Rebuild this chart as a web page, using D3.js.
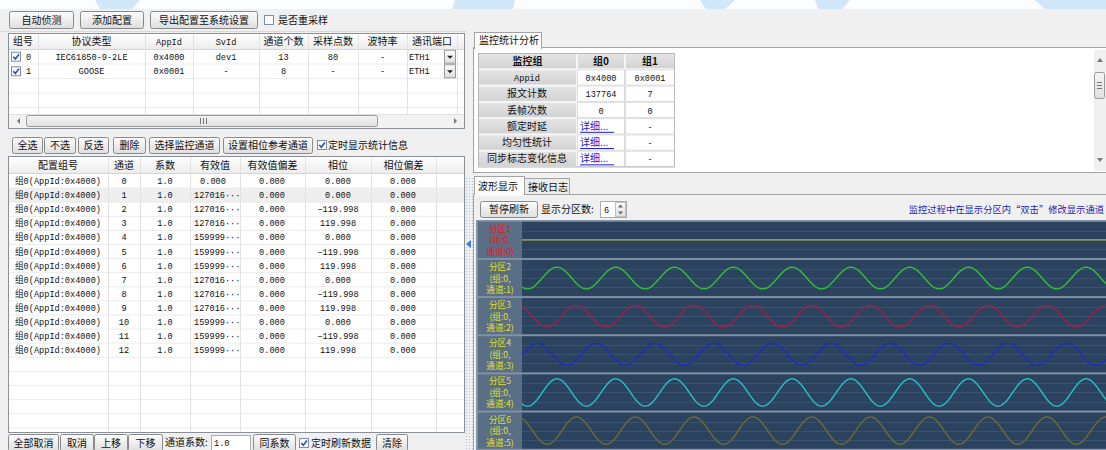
<!DOCTYPE html>
<html><head><meta charset="utf-8">
<script src="https://cdn.jsdelivr.net/npm/d3@7"></script>
<style>
html,body{margin:0;padding:0;background:#f0f0f0;overflow:hidden}
svg{display:block}
text{font-family:"Noto Sans CJK SC","Noto Sans",sans-serif;font-size:10px;fill:#111}
.mono{font-family:"Liberation Mono","DejaVu Sans Mono","Noto Sans CJK SC",monospace;font-size:8.6px}
</style></head><body>
<svg id="c" width="1106" height="450"></svg>
<script>
// ---------------- data ----------------
const toolbarButtons = ["自动侦测","添加配置","导出配置至系统设置"];
const resampleLabel = "是否重采样";

const configHeaders = ["组号","协议类型","AppId","SvId","通道个数","采样点数","波特率","通讯端口"];
const configGroups = ["0","1"];
const configProtocols = ["IEC61850-9-2LE","GOOSE"];
const configAppIds = ["0x4000","0x0001"];
const configSvIds = ["dev1","-"];
const configChannelCounts = ["13","8"];
const configSamplePoints = ["80","-"];
const configBaudRates = ["-","-"];
const configPorts = ["ETH1","ETH1"];

const midButtons = ["全选","不选","反选","删除","选择监控通道","设置相位参考通道"];
const midCheckLabel = "定时显示统计信息";

const channelHeaders = ["配置组号","通道","系数","有效值","有效值偏差","相位","相位偏差"];
const channelGroupLabel = "组0(AppId:0x4000)";
const channelIds = [0,1,2,3,4,5,6,7,8,9,10,11,12];
const channelCoefs = ["1.0","1.0","1.0","1.0","1.0","1.0","1.0","1.0","1.0","1.0","1.0","1.0","1.0"];
const channelRms = [0,127016,127016,127016,159999,159999,159999,127016,127016,127016,159999,159999,159999];
const channelRmsText = ["0.000","127016···","127016···","127016···","159999···","159999···","159999···","127016···","127016···","127016···","159999···","159999···","159999···"];
const channelRmsDev = ["0.000","0.000","0.000","0.000","0.000","0.000","0.000","0.000","0.000","0.000","0.000","0.000","0.000"];
const channelPhase = [0,0,-119.998,119.998,0,-119.998,119.998,0,-119.998,119.998,0,-119.998,119.998];
const channelPhaseDev = ["0.000","0.000","0.000","0.000","0.000","0.000","0.000","0.000","0.000","0.000","0.000","0.000","0.000"];

const bottomButtonsA = ["全部取消","取消","上移","下移"];
const coefLabel = "通道系数:";
const coefValue = "1.0";
const sameCoefButton = "同系数";
const refreshLabel = "定时刷新数据";
const clearButton = "清除";

const statTab = "监控统计分析";
const statHeaders = ["监控组","组0","组1"];
const statLabels = ["Appid","报文计数","丢帧次数","额定时延","均匀性统计","同步标志变化信息"];
const statGroup0 = ["0x4000","137764","0","详细...","详细...","详细..."];
const statGroup1 = ["0x0001","7","0","-","-","-"];

const waveTabs = ["波形显示","接收日志"];
const pauseButton = "暂停刷新";
const partitionLabel = "显示分区数:";
const partitionCount = "6";
const hintText = "监控过程中在显示分区内“双击”修改显示通道";

const wavePartitions = ["分区1","分区2","分区3","分区4","分区5","分区6"];
const waveChannels = [0,1,2,3,4,5];
const waveFreqHz = 50;
const waveWindowMs = [0, 200];
const waveSamplesPerCycle = 80;
const waveStartAngleDeg = -124;
const waveRange = [-300000, 300000];

// ---------------- drawing ----------------
const svg = d3.select("#c");
const defs = svg.append("defs");
function grad(id, c1, c2){
  const g = defs.append("linearGradient").attr("id",id).attr("x1",0).attr("x2",0).attr("y1",0).attr("y2",1);
  g.append("stop").attr("offset","0").attr("stop-color",c1);
  g.append("stop").attr("offset","1").attr("stop-color",c2);
}
grad("btnGrad","#fdfdfd","#dedede");
grad("hdrGrad","#ffffff","#ececec");
grad("cellGrad","#e4e4e4","#d2d2d2");
grad("sbGrad","#f4f4f4","#e0e0e0");

function txt(g,x,y,s,o={}){
  const t = g.append("text").attr("x",x).attr("y",y).text(s);
  if(o.anchor) t.attr("text-anchor",o.anchor);
  if(o.cls) t.attr("class",o.cls);
  if(o.fill) t.style("fill",o.fill);
  if(o.size) t.style("font-size",o.size+"px");
  if(o.weight) t.style("font-weight",o.weight);
  return t;
}
function button(g,x,y,w,h,label,o={}){
  g.append("rect").attr("x",x+0.5).attr("y",y+0.5).attr("width",w-1).attr("height",h-1)
    .attr("rx",2).attr("fill","url(#btnGrad)").attr("stroke","#8a8a8a");
  txt(g,x+w/2,y+h/2+3.6,label,{anchor:"middle",size:o.size});
}
function checkbox(g,x,y,checked){
  g.append("rect").attr("x",x+0.5).attr("y",y+0.5).attr("width",9).attr("height",9)
    .attr("fill","#fbfbfb").attr("stroke","#7d8ea8");
  if(checked){
    g.append("path").attr("d",`M${x+2.3},${y+5} L${x+4.3},${y+7.3} L${x+8},${y+2.6}`)
      .attr("fill","none").attr("stroke","#2652b8").attr("stroke-width",1.6);
  }
}

const root = svg.append("g");
root.append("rect").attr("width",1106).attr("height",450).attr("fill","#f0f0f0");
root.append("rect").attr("width",1106).attr("height",9).attr("fill","#fbfdff");
// faint watermark shapes at the top
[[95,0,140,0,132,9,100,9],[455,0,515,0,513,9,452,9],[700,0,735,0,725,9,706,9],[815,0,850,0,842,9,818,9],[1035,0,1106,0,1106,9,1045,9]]
 .forEach(p=>root.append("polygon").attr("points",p.join(",")).attr("fill","#cfe7f8"));

// top toolbar
const tb = root.append("g");
const tbX = [[9,65],[80,64],[150,108]];
toolbarButtons.forEach((b,i)=>button(tb,tbX[i][0],11,tbX[i][1],18,b));
checkbox(tb,264,15,false);
txt(tb,278,24,resampleLabel);
tb.append("line").attr("x1",0).attr("x2",466).attr("y1",31.5).attr("y2",31.5).attr("stroke","#d8d8d8");

// ---------- config table ----------
const ct = root.append("g");
const cCols = [8,38,145,193,259,308,358,407,457,464];
ct.append("rect").attr("x",8.5).attr("y",33.5).attr("width",456).attr("height",95).attr("fill","#fff").attr("stroke","#8a9099");
ct.append("rect").attr("x",9).attr("y",34).attr("width",455).attr("height",15).attr("fill","url(#hdrGrad)");
ct.append("line").attr("x1",9).attr("x2",464).attr("y1",49.5).attr("y2",49.5).attr("stroke","#d5d5d5");
const cRow = d3.scaleBand().domain(d3.range(5)).range([49.5, 49.5+5*14.5]);
d3.range(5).forEach(i=>{
  const yy = cRow(i)+cRow.bandwidth();
  if (yy < 114) ct.append("line").attr("x1",9).attr("x2",464).attr("y1",yy).attr("y2",yy).attr("stroke","#ececec");
});
cCols.slice(1,-1).forEach(x=>{
  ct.append("line").attr("x1",x+0.5).attr("x2",x+0.5).attr("y1",34).attr("y2",114).attr("stroke","#e2e2e2");
});
configHeaders.forEach((h,i)=>{
  const cx = (cCols[i]+cCols[i+1])/2;
  const mono = (h==="AppId"||h==="SvId");
  txt(ct,cx,45,h,{anchor:"middle",cls:mono?"mono":null});
});
configGroups.forEach((g,i)=>{
  const yc = cRow(i)+cRow.bandwidth()/2;
  checkbox(ct,11,yc-5,true);
  txt(ct,26,yc+3,g,{cls:"mono"});
  const vals = [configProtocols[i],configAppIds[i],configSvIds[i],configChannelCounts[i],configSamplePoints[i],configBaudRates[i]];
  vals.forEach((v,j)=>{
    const cx = (cCols[j+1]+cCols[j+2])/2;
    txt(ct,cx,yc+3,v,{anchor:"middle",cls:"mono"});
  });
  txt(ct,409,yc+3,configPorts[i],{cls:"mono"});
  ct.append("rect").attr("x",444.5).attr("y",yc-6.5).attr("width",11).attr("height",13).attr("fill","url(#btnGrad)").attr("stroke","#9a9a9a");
  ct.append("path").attr("d",`M${447},${yc-1} L${453},${yc-1} L${450},${yc+2} Z`).attr("fill","#222");
});
// horizontal scrollbar
ct.append("rect").attr("x",9).attr("y",114).attr("width",455).attr("height",14).attr("fill","#f2f2f2");
ct.append("line").attr("x1",9).attr("x2",464).attr("y1",114.5).attr("y2",114.5).attr("stroke","#e0e0e0");
ct.append("path").attr("d","M17,121 L20,118 L20,124 Z").attr("fill","#777");
ct.append("path").attr("d","M457,121 L454,118 L454,124 Z").attr("fill","#777");
ct.append("rect").attr("x",26.5).attr("y",115.5).attr("width",351).attr("height",11).attr("rx",2).attr("fill","url(#sbGrad)").attr("stroke","#9a9a9a");
[200,203,206].forEach(x=>ct.append("line").attr("x1",x+0.5).attr("x2",x+0.5).attr("y1",118).attr("y2",124).attr("stroke","#777"));

// ---------- middle toolbar ----------
const mt = root.append("g");
const mX = [[12,31],[44,32],[78,31],[113,33],[149,71],[223,90]];
midButtons.forEach((b,i)=>button(mt,mX[i][0],137,mX[i][1],17,b));
checkbox(mt,317,140,true);
txt(mt,328,149,midCheckLabel);

// ---------- channel table ----------
const cht = root.append("g");
const hCols = [8,108,140,190,240,305,371,436,464];
cht.append("rect").attr("x",8.5).attr("y",156.5).attr("width",456).attr("height",276).attr("fill","#fff").attr("stroke","#8a9099");
cht.append("rect").attr("x",9).attr("y",157).attr("width",455).attr("height",16).attr("fill","url(#hdrGrad)");
cht.append("line").attr("x1",9).attr("x2",464).attr("y1",173.5).attr("y2",173.5).attr("stroke","#d5d5d5");
const hRow = d3.scaleBand().domain(d3.range(18)).range([174, 174+18*14.1]);
cht.append("rect").attr("x",9).attr("y",hRow(1)).attr("width",455).attr("height",hRow.bandwidth()).attr("fill","#eeeeee");
d3.range(18).forEach(i=>{
  const yy = hRow(i)+hRow.bandwidth();
  if (yy < 432) cht.append("line").attr("x1",9).attr("x2",464).attr("y1",yy).attr("y2",yy).attr("stroke","#ececec");
});
hCols.slice(1,-1).forEach(x=>{
  cht.append("line").attr("x1",x+0.5).attr("x2",x+0.5).attr("y1",157).attr("y2",432).attr("stroke","#e2e2e2");
});
channelHeaders.forEach((h,i)=>{
  txt(cht,(hCols[i]+hCols[i+1])/2,169,h,{anchor:"middle"});
});
const fmtPhase = v => v===0 ? "0.000" : d3.format(".3f")(v);
channelIds.forEach((id,i)=>{
  const yc = hRow(i)+hRow.bandwidth()/2+3;
  txt(cht,15,yc,channelGroupLabel,{cls:"mono"});
  txt(cht,124,yc,String(id),{anchor:"middle",cls:"mono"});
  txt(cht,165,yc,channelCoefs[i],{anchor:"middle",cls:"mono"});
  if (channelRms[i]===0) txt(cht,213,yc,channelRmsText[i],{anchor:"middle",cls:"mono"});
  else txt(cht,194,yc,channelRmsText[i],{cls:"mono"});
  txt(cht,272,yc,channelRmsDev[i],{anchor:"middle",cls:"mono"});
  txt(cht,338,yc,fmtPhase(channelPhase[i]),{anchor:"middle",cls:"mono"});
  txt(cht,403,yc,channelPhaseDev[i],{anchor:"middle",cls:"mono"});
});

// ---------- bottom toolbar ----------
const bt = root.append("g");
const bX = [[8,51],[60,34],[94,34],[128,35]];
bottomButtonsA.forEach((b,i)=>button(bt,bX[i][0],434,bX[i][1],18,b));
txt(bt,165,446,coefLabel);
bt.append("rect").attr("x",211.5).attr("y",435.5).attr("width",39).attr("height",15).attr("fill","#fff").attr("stroke","#a5acb5");
txt(bt,214,446,coefValue,{cls:"mono"});
button(bt,253,434,43,18,sameCoefButton);
checkbox(bt,299,438,true);
txt(bt,311,447,refreshLabel);
button(bt,376,434,32,18,clearButton);

// ---------- splitter ----------
const sp = root.append("g");
d3.range(178,450,3).forEach(y=>{
  [466,469,472].forEach(x=>sp.append("rect").attr("x",x).attr("y",y).attr("width",1).attr("height",1).attr("fill","#aebfd8"));
});
sp.append("path").attr("d","M466,244 L471,240 L471,248 Z").attr("fill","#3d7bd8");

// ---------- stats panel ----------
const st = root.append("g");
st.append("rect").attr("x",473.5).attr("y",47.5).attr("width",634).attr("height",125).attr("fill","#fff").attr("stroke","#a3a3a3");
st.append("rect").attr("x",474.5).attr("y",32.5).attr("width",67).attr("height",16).attr("fill","#fcfcfc").attr("stroke","#a3a3a3");
st.append("rect").attr("x",475).attr("y",47).attr("width",66).attr("height",2).attr("fill","#fcfcfc");
txt(st,479,44,statTab);
const sCols = [478,577,625,675];
const sRow = d3.scaleBand().domain(d3.range(7)).range([53,167]);
d3.range(7).forEach(r=>{
  d3.range(3).forEach(c=>{
    const grey = (r===0 || c===0);
    st.append("rect").attr("x",sCols[c]+0.5).attr("y",sRow(r)+0.5).attr("width",sCols[c+1]-sCols[c]-1).attr("height",sRow.bandwidth()-1)
      .attr("fill",grey?"url(#cellGrad)":"#fff").attr("stroke",grey?"#f6f6f6":"#dcdcdc");
  });
});
st.append("rect").attr("x",478.5).attr("y",53.5).attr("width",196).attr("height",113.5).attr("fill","none").attr("stroke","#b8b8b8");
statHeaders.forEach((h,i)=>txt(st,(sCols[i]+sCols[i+1])/2,sRow(0)+12,h,{anchor:"middle",weight:"bold"}));
statLabels.forEach((l,i)=>{
  const yc = sRow(i+1)+sRow.bandwidth()/2+3.5;
  txt(st,527,yc,l,{anchor:"middle",cls:i===0?"mono":null});
  const v0 = statGroup0[i], v1 = statGroup1[i];
  if (v0.startsWith("详细")) {
    txt(st,580,yc,v0,{fill:"#1a1ad0"});
    st.append("line").attr("x1",580).attr("x2",614).attr("y1",yc+2.5).attr("y2",yc+2.5).attr("stroke","#1a1ad0");
  } else txt(st,601,yc,v0,{anchor:"middle",cls:"mono"});
  txt(st,650,yc,v1,{anchor:"middle",cls:"mono"});
});
// vertical scrollbar
st.append("rect").attr("x",1094).attr("y",50).attr("width",12).attr("height",121).attr("fill","#f0f0f0");
st.append("path").attr("d","M1100,58 L1097,62 L1103,62 Z").attr("fill","#777");
st.append("path").attr("d","M1100,162 L1097,158 L1103,158 Z").attr("fill","#777");
st.append("rect").attr("x",1094.5).attr("y",72.5).attr("width",10).attr("height",26).attr("rx",2).attr("fill","url(#sbGrad)").attr("stroke","#9a9a9a");
[82,85,88].forEach(y=>st.append("line").attr("x1",1097).attr("x2",1102).attr("y1",y+0.5).attr("y2",y+0.5).attr("stroke","#777"));

// ---------- wave panel ----------
const wp = root.append("g");
wp.append("rect").attr("x",473.5).attr("y",194.5).attr("width",634).attr("height",260).attr("fill","#f0f0f0").attr("stroke","#a3a3a3");
wp.append("rect").attr("x",524.5).attr("y",178.5).attr("width",45).attr("height",16).attr("fill","#ececec").attr("stroke","#a3a3a3");
wp.append("rect").attr("x",474.5).attr("y",176.5).attr("width",50).attr("height",18).attr("fill","#fcfcfc").attr("stroke","#a3a3a3");
wp.append("rect").attr("x",475).attr("y",194).attr("width",49).attr("height",2).attr("fill","#fcfcfc");
txt(wp,478,190,waveTabs[0]);
txt(wp,528,191,waveTabs[1]);
button(wp,480,201,58,17,pauseButton);
txt(wp,541,213,partitionLabel);
wp.append("rect").attr("x",600.5).attr("y",201.5).attr("width",26).attr("height",16).attr("fill","#fff").attr("stroke","#a5acb5");
txt(wp,604,213,partitionCount,{cls:"mono"});
wp.append("rect").attr("x",615.5).attr("y",202.5).attr("width",10).attr("height",14).attr("fill","url(#btnGrad)").attr("stroke","#c0c0c0");
wp.append("path").attr("d","M620.5,204.5 L618,207.5 L623,207.5 Z").attr("fill","#666");
wp.append("path").attr("d","M620.5,214.5 L618,211.5 L623,211.5 Z").attr("fill","#666");
txt(wp,1104,213,hintText,{fill:"#2424b4",anchor:"end",size:9.3});

const waveColors = ["#a7b43a","#2fc42f","#a41f48","#1c2cbf","#22c2c8","#6f6a33"];
const labelColors = ["#e8161e","#e2e21e","#e2e21e","#e2e21e","#e2e21e","#e2e21e"];
wp.append("rect").attr("x",476).attr("y",220).attr("width",630).attr("height",230).attr("fill","#8293a7");
const waveX = d3.scaleLinear().domain(waveWindowMs).range([522, 1110]);
const panelY = d3.scaleBand().domain(waveChannels).range([221, 449.5]).paddingInner(0.05).paddingOuter(0.02);
defs.append("clipPath").attr("id","plotClip").append("rect").attr("x",522).attr("y",220).attr("width",584).attr("height",230);
const stepMs = 1000/waveFreqHz/waveSamplesPerCycle;
const times = d3.range(waveWindowMs[0], waveWindowMs[1]+stepMs/2, stepMs);
waveChannels.forEach((ch,i)=>{
  const y0 = panelY(ch), h = panelY.bandwidth();
  wp.append("rect").attr("x",478).attr("y",y0).attr("width",44).attr("height",h).attr("fill","#5a6e85");
  wp.append("rect").attr("x",522).attr("y",y0).attr("width",584).attr("height",h).attr("fill","#2c4360");
  const yS = d3.scaleLinear().domain(waveRange).range([y0+h, y0]);
  [-150000,0,150000].forEach(v=>{
    wp.append("line").attr("x1",522).attr("x2",1106).attr("y1",Math.round(yS(v))+0.5).attr("y2",Math.round(yS(v))+0.5)
      .attr("stroke","#3b5372").attr("stroke-width",1);
  });
  const peak = channelRms[ch]*Math.SQRT2;
  const phase = channelPhase[ch];
  const pts = times.map(t=>({t, v: peak*Math.sin((360*waveFreqHz*t/1000 + waveStartAngleDeg + phase)*Math.PI/180)}));
  const line = d3.line().x(d=>waveX(d.t)).y(d=>yS(d.v));
  wp.append("path").attr("d",line(pts)).attr("fill","none").attr("stroke",waveColors[i])
    .attr("stroke-width",1.4).attr("clip-path","url(#plotClip)");
  const cy = y0 + h/2;
  [wavePartitions[i],"(组:0,","通道:"+ch+")"].forEach((s,k)=>{
    txt(wp,500,cy-8+k*11.5,s,{anchor:"middle",fill:labelColors[i],size:8.6});
  });
});
</script></body></html>
